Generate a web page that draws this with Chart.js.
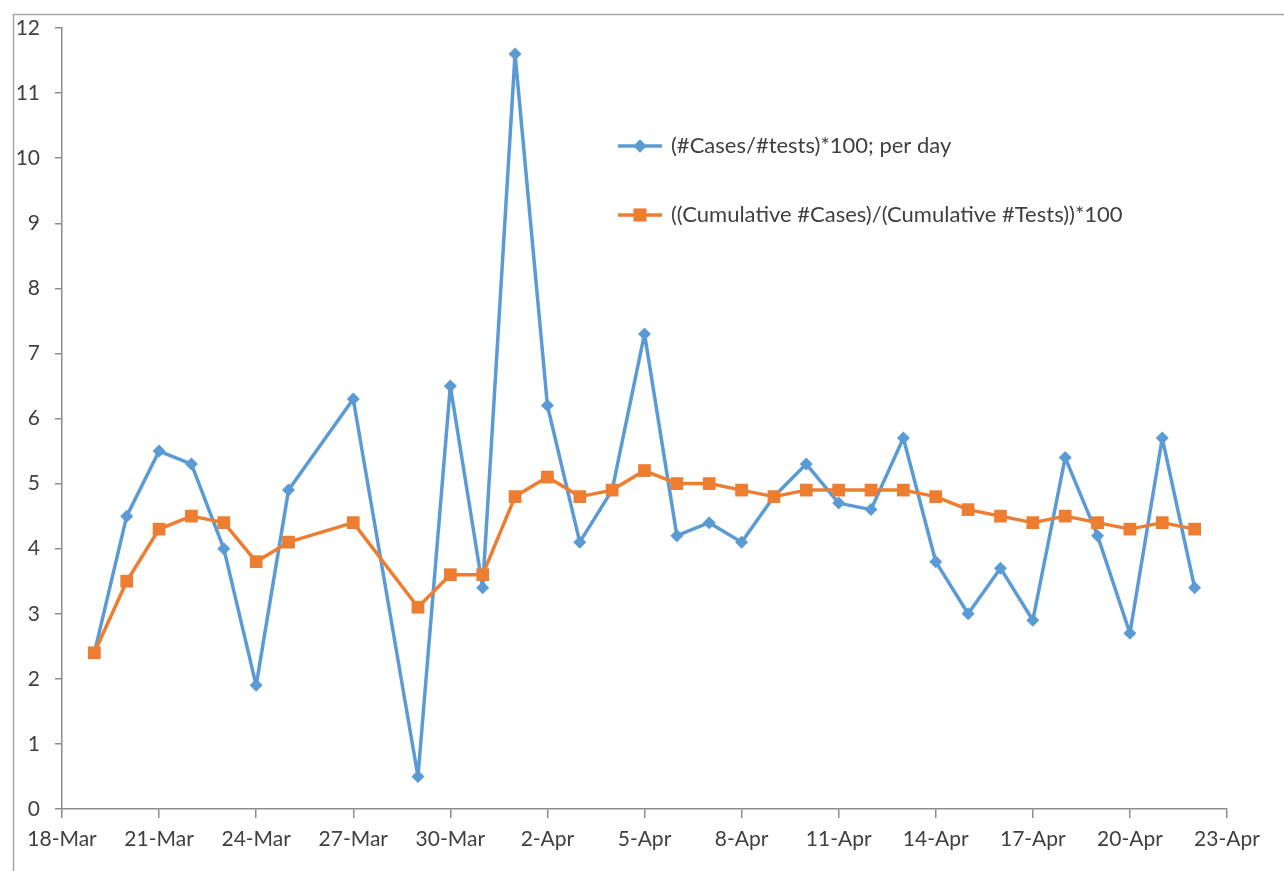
<!DOCTYPE html>
<html>
<head>
<meta charset="utf-8">
<script src="https://cdn.jsdelivr.net/npm/chart.js@4/dist/chart.umd.min.js"></script>
<style>
    html, body { margin: 0; padding: 0; background: #fff; }
    #wrap { position: relative; width: 1284px; height: 871px; }
</style>
</head>
<body>
<div id="wrap"><canvas id="myChart" width="1284" height="871"></canvas></div>
<script>
// Fechas de cada punto (el 26-Mar y el 28-Mar no tienen dato)
const fechas = ['19-Mar', '20-Mar', '21-Mar', '22-Mar', '23-Mar', '24-Mar', '25-Mar', '27-Mar',
    '29-Mar', '30-Mar', '31-Mar', '1-Apr', '2-Apr', '3-Apr', '4-Apr', '5-Apr', '6-Apr',
    '7-Apr', '8-Apr', '9-Apr', '10-Apr', '11-Apr', '12-Apr', '13-Apr', '14-Apr', '15-Apr',
    '16-Apr', '17-Apr', '18-Apr', '19-Apr', '20-Apr', '21-Apr', '22-Apr'];

// (#Cases/#tests)*100; per day
const porDia = [2.4, 4.5, 5.5, 5.3, 4.0, 1.9, 4.9, 6.3,
    0.5, 6.5, 3.4, 11.6, 6.2, 4.1, 4.9, 7.3, 4.2,
    4.4, 4.1, 4.8, 5.3, 4.7, 4.6, 5.7, 3.8, 3.0,
    3.7, 2.9, 5.4, 4.2, 2.7, 5.7, 3.4];

// ((Cumulative #Cases)/(Cumulative #Tests))*100
const acumulado = [2.4, 3.5, 4.3, 4.5, 4.4, 3.8, 4.1, 4.4,
    3.1, 3.6, 3.6, 4.8, 5.1, 4.8, 4.9, 5.2, 5.0,
    5.0, 4.9, 4.8, 4.9, 4.9, 4.9, 4.9, 4.8, 4.6,
    4.5, 4.4, 4.5, 4.4, 4.3, 4.4, 4.3];

const etiquetasX = ['18-Mar', '21-Mar', '24-Mar', '27-Mar', '30-Mar', '2-Apr', '5-Apr',
    '8-Apr', '11-Apr', '14-Apr', '17-Apr', '20-Apr', '23-Apr'];

const nombreSerie1 = '(#Cases/#tests)*100; per day';
const nombreSerie2 = '((Cumulative #Cases)/(Cumulative #Tests))*100';

const AZUL = '#5B9BD5';
const NARANJA = '#ED7D31';
const TEXTO = '#404040';
const EJE = '#8c8c8c';
const FUENTE = 'Lato, "Liberation Sans", sans-serif';

// dias desde el 18-Mar
function diaDesdeInicio(f) {
    const [d, m] = f.split('-');
    return m === 'Mar' ? Number(d) - 18 : 13 + Number(d);
}

const puntos = serie => fechas.map((f, i) => ({ x: diaDesdeInicio(f), y: serie[i] }));

// marco gris y leyenda dentro del grafico
const decoracion = {
    id: 'decoracion',
    afterDraw(chart) {
        const ctx = chart.ctx;
        ctx.save();
        ctx.strokeStyle = '#a6a6a6';
        ctx.lineWidth = 1.5;
        ctx.beginPath();
        ctx.moveTo(13.5, 871);
        ctx.lineTo(13.5, 14.5);
        ctx.lineTo(1284, 14.5);
        ctx.stroke();

        const items = [
            { texto: nombreSerie1, color: AZUL, estilo: 'rectRot', radio: 6.5, y: 146 },
            { texto: nombreSerie2, color: NARANJA, estilo: 'rect', radio: 9, y: 215 }
        ];
        items.forEach(it => {
            ctx.strokeStyle = it.color;
            ctx.lineWidth = 3.5;
            ctx.beginPath();
            ctx.moveTo(618, it.y);
            ctx.lineTo(662, it.y);
            ctx.stroke();
            ctx.fillStyle = it.color;
            Chart.helpers.drawPoint(ctx, { pointStyle: it.estilo, radius: it.radio, borderWidth: 0 }, 640, it.y);
            ctx.fill();
            ctx.fillStyle = TEXTO;
            ctx.font = '22px ' + FUENTE;
            ctx.textBaseline = 'middle';
            ctx.textAlign = 'left';
            ctx.fillText(it.texto, 671, it.y);
        });
        ctx.restore();
    }
};

function crearGrafica() {
    const ctx = document.getElementById('myChart').getContext('2d');
    new Chart(ctx, {
        type: 'line',
        data: {
            datasets: [
                {
                    label: nombreSerie1,
                    data: puntos(porDia),
                    borderColor: AZUL,
                    backgroundColor: AZUL,
                    borderWidth: 3.5,
                    borderJoinStyle: 'round',
                    pointStyle: 'rectRot',
                    pointRadius: 6.5,
                    pointBorderWidth: 0,
                    tension: 0,
                    order: 1
                },
                {
                    label: nombreSerie2,
                    data: puntos(acumulado),
                    borderColor: NARANJA,
                    backgroundColor: NARANJA,
                    borderWidth: 3.5,
                    borderJoinStyle: 'round',
                    pointStyle: 'rect',
                    pointRadius: 9,
                    pointBorderWidth: 0,
                    tension: 0,
                    order: 0
                }
            ]
        },
        options: {
            responsive: false,
            animation: false,
            layout: { padding: { top: 28, right: 57, left: 0, bottom: 0 } },
            plugins: {
                legend: { display: false },
                tooltip: { enabled: false }
            },
            scales: {
                x: {
                    type: 'linear',
                    min: 0,
                    max: 36,
                    afterFit: s => { s.height = 62; },
                    ticks: {
                        stepSize: 3,
                        autoSkip: false,
                        maxRotation: 0,
                        padding: 9,
                        color: TEXTO,
                        font: { family: FUENTE, size: 21 },
                        callback: v => etiquetasX[v / 3]
                    },
                    grid: { drawOnChartArea: false, tickLength: 9, color: EJE, lineWidth: 1.5 },
                    border: { color: EJE, width: 1.5 }
                },
                y: {
                    min: 0,
                    max: 12,
                    afterFit: s => { s.width = 62; },
                    ticks: {
                        stepSize: 1,
                        padding: 15,
                        color: TEXTO,
                        font: { family: FUENTE, size: 21 }
                    },
                    grid: { drawOnChartArea: false, tickLength: 7, color: EJE, lineWidth: 1.5 },
                    border: { color: EJE, width: 1.5 }
                }
            }
        },
        plugins: [decoracion]
    });
}

document.addEventListener('DOMContentLoaded', crearGrafica);
</script>
</body>
</html>
